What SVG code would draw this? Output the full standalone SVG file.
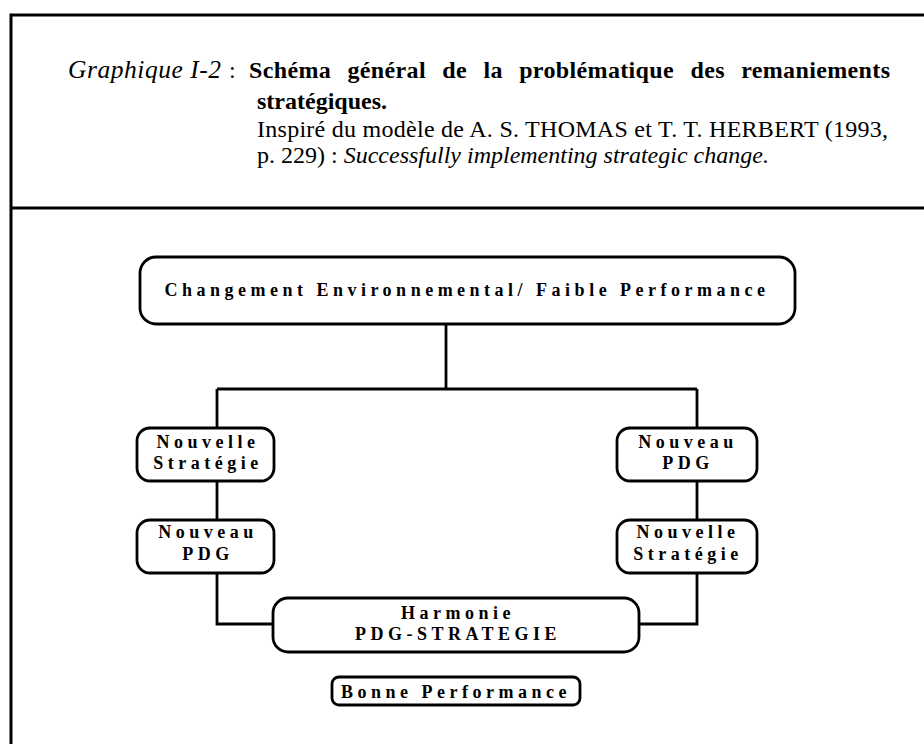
<svg xmlns="http://www.w3.org/2000/svg" width="924" height="744" viewBox="0 0 924 744">
  <style>
    .frame { fill: none; stroke: #000; stroke-width: 3; }
    .box { fill: #fff; stroke: #000; stroke-width: 2.8; }
    .link { fill: none; stroke: #000; stroke-width: 2.8; }
    .hd { font-family: "Liberation Serif", "Times New Roman", serif; font-size: 24px; fill: #000; }
    .it { font-style: italic; }
    .bd { font-weight: bold; }
    .lbl { font-family: "Liberation Serif", "Times New Roman", serif; font-size: 18px; font-weight: bold; letter-spacing: 4.5px; fill: #000; text-anchor: middle; }
  </style>
  <rect width="924" height="744" fill="#fff"/>

  <!-- page frame and header divider -->
  <g id="frame">
    <path class="frame" d="M11,744 V15 H930"/>
    <path class="frame" d="M11,208 H930"/>
  </g>

  <!-- caption -->
  <g id="caption">
    <text class="hd it" x="68" y="78" style="font-size:25.5px" textLength="153" lengthAdjust="spacing">Graphique I-2</text>
    <text class="hd" x="229" y="78">:</text>
    <text class="hd bd" x="249" y="78" word-spacing="10" textLength="641" lengthAdjust="spacing">Schéma général de la problématique des remaniements</text>
    <text class="hd bd" x="257" y="109">stratégiques.</text>
    <text class="hd" x="257" y="137" textLength="631" lengthAdjust="spacing">Inspiré du modèle de A. S. THOMAS et T. T. HERBERT (1993,</text>
    <text class="hd" x="257" y="163">p. 229) : <tspan class="it">Successfully implementing strategic change.</tspan></text>
  </g>

  <!-- connectors -->
  <g id="connectors">
    <path class="link" d="M446,324 V389"/>
    <path class="link" d="M217,389 H697"/>
    <path class="link" d="M217,389 V428"/>
    <path class="link" d="M697,389 V428"/>
    <path class="link" d="M217,481 V520"/>
    <path class="link" d="M697,481 V520"/>
    <path class="link" d="M217,573 V624 H273"/>
    <path class="link" d="M697,573 V624 H639"/>
  </g>

  <g id="n-change">
    <rect class="box" x="140" y="257" width="655" height="67" rx="16"/>
    <text class="lbl" x="467" y="296">Changement Environnemental/ Faible Performance</text>
  </g>

  <g id="n-left-strategie">
    <rect class="box" x="137" y="428" width="137" height="53" rx="13"/>
    <text class="lbl" x="208" y="448">Nouvelle</text>
    <text class="lbl" x="208" y="469">Stratégie</text>
  </g>

  <g id="n-left-pdg">
    <rect class="box" x="137" y="520" width="137" height="53" rx="13"/>
    <text class="lbl" x="208" y="538">Nouveau</text>
    <text class="lbl" x="208" y="560">PDG</text>
  </g>

  <g id="n-right-pdg">
    <rect class="box" x="617" y="428" width="140" height="53" rx="13"/>
    <text class="lbl" x="688" y="448">Nouveau</text>
    <text class="lbl" x="688" y="469">PDG</text>
  </g>

  <g id="n-right-strategie">
    <rect class="box" x="617" y="520" width="140" height="53" rx="13"/>
    <text class="lbl" x="688" y="538">Nouvelle</text>
    <text class="lbl" x="688" y="560">Stratégie</text>
  </g>

  <g id="n-harmonie">
    <rect class="box" x="273" y="598" width="366" height="54" rx="15"/>
    <text class="lbl" x="458" y="619">Harmonie</text>
    <text class="lbl" x="458" y="640">PDG-STRATEGIE</text>
  </g>

  <g id="n-bonne">
    <rect class="box" x="332" y="677" width="248" height="28" rx="7"/>
    <text class="lbl" x="456" y="698">Bonne Performance</text>
  </g>
</svg>
